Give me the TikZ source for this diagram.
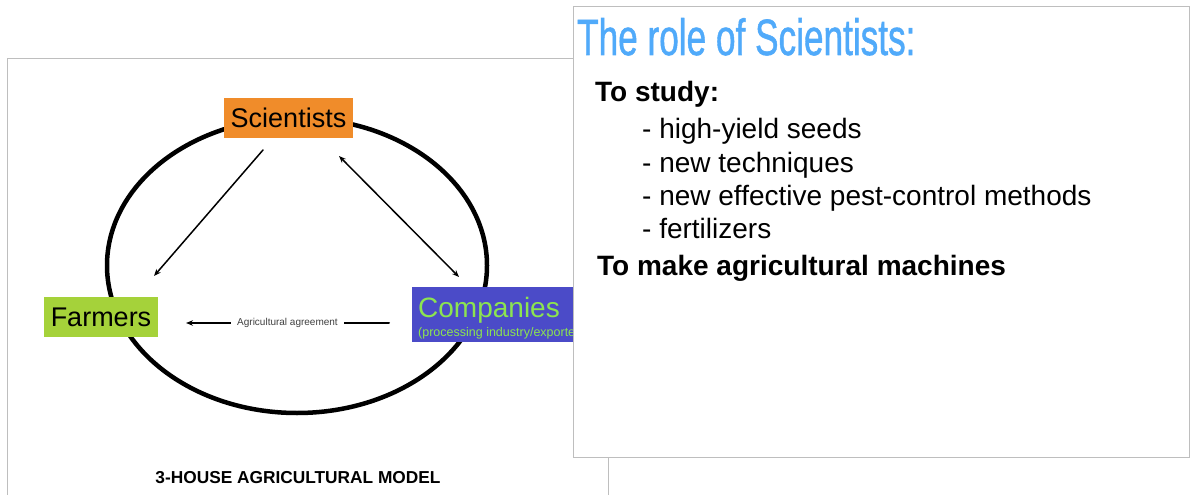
\documentclass[tikz,border=0pt]{standalone}
\usepackage{fontspec}
\setmainfont{Liberation Sans}
\newfontfamily\titlefont[FakeBold=1.2]{Liberation Sans}
\usetikzlibrary{arrows.meta}

\definecolor{sciorange}{RGB}{240,140,42}
\definecolor{farmgreen}{RGB}{165,210,58}
\definecolor{compblue}{RGB}{75,75,200}
\definecolor{compgreen}{RGB}{140,228,80}
\definecolor{titleblue}{RGB}{80,170,250}
\definecolor{slidegrey}{RGB}{190,190,190}

\begin{document}
\begin{tikzpicture}[x=1pt, y=-1pt,
                    >={Stealth[length=7pt,width=5.5pt]}, line cap=round,
                    box/.style={inner xsep=7pt, minimum height=40pt,
                                font=\fontsize{27}{30}\selectfont},
                    slide/.style={draw=slidegrey, line width=1pt, fill=white},
                    body/.style={anchor=base west, inner sep=0pt,
                                 font=\fontsize{28}{30}\selectfont}
                   ]
\useasboundingbox (0,0) rectangle (1192,495);
\fill [white] (0,0) rectangle (1192,495);

% left slide
\draw [slide] (7,59) rectangle (608,500);
\draw [line width=4.5pt] (297,265.5) ellipse [x radius=190, y radius=147.5];

\coordinate (sfa) at (263,150);
\coordinate (sfb) at (154,276);
\coordinate (sca) at (339,156);
\coordinate (scb) at (459,277);
\coordinate (cfa) at (389,323);
\coordinate (cfb) at (186,323);

\draw [->, line width=1.5pt] (sfa) -- (sfb);
\draw [<->, line width=1.5pt] (sca) -- (scb);
\draw [->, line width=2pt] (cfa) --
    node[fill=white, text=black!75, inner xsep=6pt,
         font=\fontsize{10}{11}\selectfont]{Agricultural agreement} (cfb);

\node [box, fill=sciorange] (sci) at (288.5,118) {Scientists};
\node [box, fill=farmgreen] (farm) at (101,317) {Farmers};
\node [fill=compblue, minimum width=200pt, minimum height=55pt,
       anchor=north west] (comp) at (412,287) {};
\node [anchor=base west, inner sep=0pt, text=compgreen,
       font=\fontsize{28}{30}\selectfont] (compname) at (418,317) {Companies};
\node [anchor=base west, inner sep=0pt, text=compgreen,
       font=\fontsize{12.5}{14}\selectfont] (compsub) at (418,336)
       {(processing industry/exporters)};

\node [anchor=base, font=\bfseries\fontsize{17.3}{19}\selectfont]
      (model) at (298,483) {3-HOUSE AGRICULTURAL MODEL};

% right slide
\draw [slide] (573,7) rectangle (1189,457);
\node [anchor=base west, inner sep=0pt, xscale=0.69, text=titleblue,
       font=\titlefont\fontsize{51}{51}\selectfont] (role) at (577,55)
       {The role of Scientists:};

\node [body, font=\bfseries\fontsize{28}{30}\selectfont] (study) at (595,102) {To study:};
\foreach \t [count=\i from 0] in {high-yield seeds, new techniques,
          new effective pest-control methods, fertilizers}
    \node [body] (item\i) at (642,139+33*\i) {- \t};
\node [body, font=\bfseries\fontsize{28}{30}\selectfont] (machines) at (597,275)
      {To make agricultural machines};
\end{tikzpicture}
\end{document}
